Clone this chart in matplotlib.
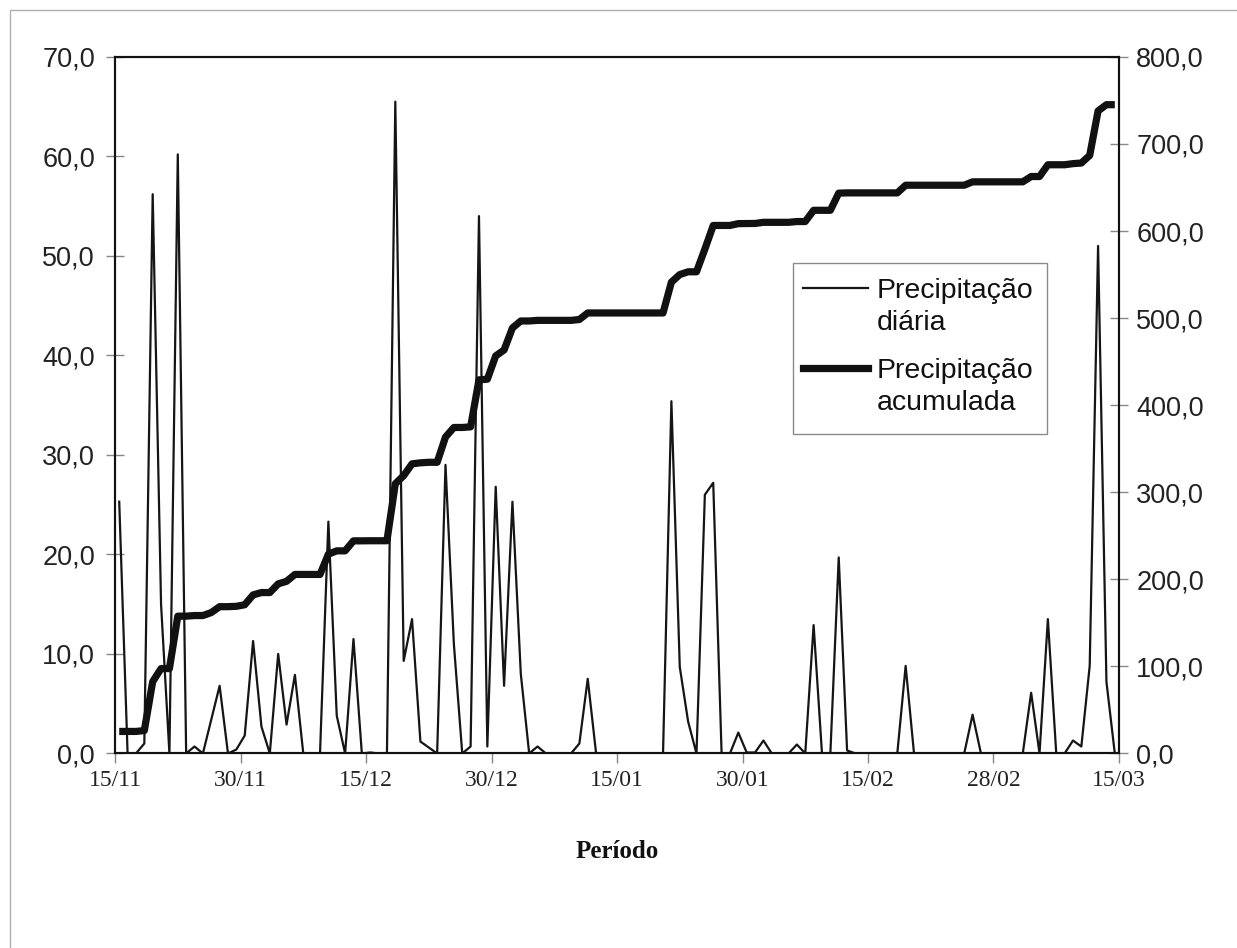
import matplotlib
matplotlib.use("Agg")
import matplotlib.pyplot as plt
from matplotlib.lines import Line2D
from matplotlib.patches import Rectangle
import numpy as np

# precipitação diária (mm), um valor por dia de 15/11 a 15/03
daily = [25.3, 0, 0, 1.0, 56.2, 15.0, 0, 60.2, 0, 0.7,
         0, 3.4, 6.8, 0, 0.4, 1.8, 11.3, 2.7, 0, 10.0,
         2.9, 7.9, 0, 0, 0, 23.3, 3.8, 0, 11.5, 0,
         0.1, 0, 0, 65.5, 9.3, 13.5, 1.2, 0.6, 0, 29.0,
         11.0, 0, 0.7, 54.0, 0.7, 26.8, 6.8, 25.3, 8.0, 0,
         0.7, 0, 0, 0, 0, 1.0, 7.5, 0, 0, 0,
         0, 0, 0, 0, 0, 0, 35.4, 8.7, 3.2, 0,
         26.0, 27.2, 0, 0, 2.1, 0.1, 0.1, 1.3, 0, 0,
         0, 0.9, 0, 12.9, 0, 0, 19.7, 0.3, 0, 0,
         0, 0, 0, 0, 8.8, 0, 0, 0, 0, 0,
         0, 0, 3.9, 0, 0, 0, 0, 0, 0, 6.1,
         0, 13.5, 0, 0, 1.3, 0.7, 8.8, 51.0, 7.2, 0]

# precipitação acumulada (mm)
accum = [25.3, 25.3, 25.3, 26.3, 82.5, 97.5, 97.5, 157.7, 157.7, 158.4,
         158.4, 161.8, 168.6, 168.6, 169.0, 170.8, 182.1, 184.8, 184.8, 194.8,
         197.7, 205.6, 205.6, 205.6, 205.6, 228.9, 232.7, 232.7, 244.2, 244.2,
         244.3, 244.3, 244.3, 309.8, 319.1, 332.6, 333.8, 334.4, 334.4, 363.4,
         374.4, 374.4, 375.1, 429.1, 429.8, 456.6, 463.4, 488.7, 496.7, 496.7,
         497.4, 497.4, 497.4, 497.4, 497.4, 498.4, 505.9, 505.9, 505.9, 505.9,
         505.9, 505.9, 505.9, 505.9, 505.9, 505.9, 541.3, 550.0, 553.2, 553.2,
         579.2, 606.4, 606.4, 606.4, 608.5, 608.6, 608.7, 610.0, 610.0, 610.0,
         610.0, 610.9, 610.9, 623.8, 623.8, 623.8, 643.5, 643.8, 643.8, 643.8,
         643.8, 643.8, 643.8, 643.8, 652.6, 652.6, 652.6, 652.6, 652.6, 652.6,
         652.6, 652.6, 656.5, 656.5, 656.5, 656.5, 656.5, 656.5, 656.5, 662.6,
         662.6, 676.1, 676.1, 676.1, 677.4, 678.1, 686.9, 737.9, 745.1, 745.1]

date_labels = ["15/11", "30/11", "15/12", "30/12", "15/01",
               "30/01", "15/02", "28/02", "15/03"]
left_ticks = [0, 10, 20, 30, 40, 50, 60, 70]
right_ticks = [0, 100, 200, 300, 400, 500, 600, 700, 800]

W, H = 1237, 948


def px(x, y):
    # pixel da imagem -> fração da figura
    return x / W, 1 - y / H


def fmt(v):
    return f"{v:.1f}".replace(".", ",")


fig = plt.figure(figsize=(W / 100, H / 100), dpi=100)
fig.patch.set_facecolor("white")

# moldura externa cinza (cortada à direita e embaixo)
fig.add_artist(Rectangle((10 / W, -0.1), 1.2, 1.1 - 10 / H,
                         transform=fig.transFigure, fill=False,
                         edgecolor="#b0b0b0", linewidth=1.0))

ax = fig.add_axes([0.093, 0.2052, 0.8116, 0.7348])
ax2 = ax.twinx()

x = np.arange(len(daily)) + 0.5
ax.plot(x, daily, color="#151515", linewidth=1.6)
ax2.plot(x, accum, color="#111111", linewidth=5.2, solid_joinstyle="round",
         solid_capstyle="butt")

ax.set_xlim(0, len(daily))
ax.set_ylim(0, 70)
ax2.set_ylim(0, 800)

ax.set_xticks(np.arange(0, len(daily) + 1, 15))
ax.set_xticklabels(date_labels, family="Liberation Serif", fontsize=17,
                   color="#222222")
ax.set_yticks(left_ticks)
ax.set_yticklabels([fmt(v) for v in left_ticks], family="Liberation Sans",
                   fontsize=19.5, color="#222222")
ax2.set_yticks(right_ticks)
ax2.set_yticklabels([fmt(v) for v in right_ticks], family="Liberation Sans",
                    fontsize=19.5, color="#222222")

ax.tick_params(axis="x", direction="out", length=7, width=1, color="#888888",
               pad=5)
ax.tick_params(axis="y", direction="inout", length=13, width=1,
               color="#888888", pad=8)
ax2.tick_params(axis="y", direction="inout", length=13, width=1,
                color="#888888", pad=6)

for a in (ax, ax2):
    for s in a.spines.values():
        s.set_color("#111111")
        s.set_linewidth(1.5)

ax.set_xlabel("Período", family="Liberation Serif", fontsize=18,
              fontweight="bold", labelpad=35, color="#111111")

# legenda desenhada à mão (linha alinhada com a primeira linha do texto)
fig.add_artist(Rectangle(px(793, 434), 254 / W, 171 / H,
                         transform=fig.transFigure, facecolor="white",
                         edgecolor="#8a8a8a", linewidth=1.0, zorder=5))
x0, y0 = px(803, 288)
x1, _ = px(868, 288)
fig.add_artist(Line2D([x0, x1], [y0, y0], color="#151515", linewidth=1.6,
                      transform=fig.transFigure, zorder=6))
x0, y0 = px(803, 368)
fig.add_artist(Line2D([x0, x1], [y0, y0], color="#111111", linewidth=5.2,
                      transform=fig.transFigure, zorder=6))
for label, yb in [("Precipitação", 298), ("diária", 330),
                  ("Precipitação", 378), ("acumulada", 410)]:
    tx, ty = px(877, yb)
    fig.text(tx, ty, label, family="Liberation Sans", fontsize=20.5,
             color="#111111", va="baseline", ha="left", zorder=7)

fig.savefig("out.png", dpi=100)
